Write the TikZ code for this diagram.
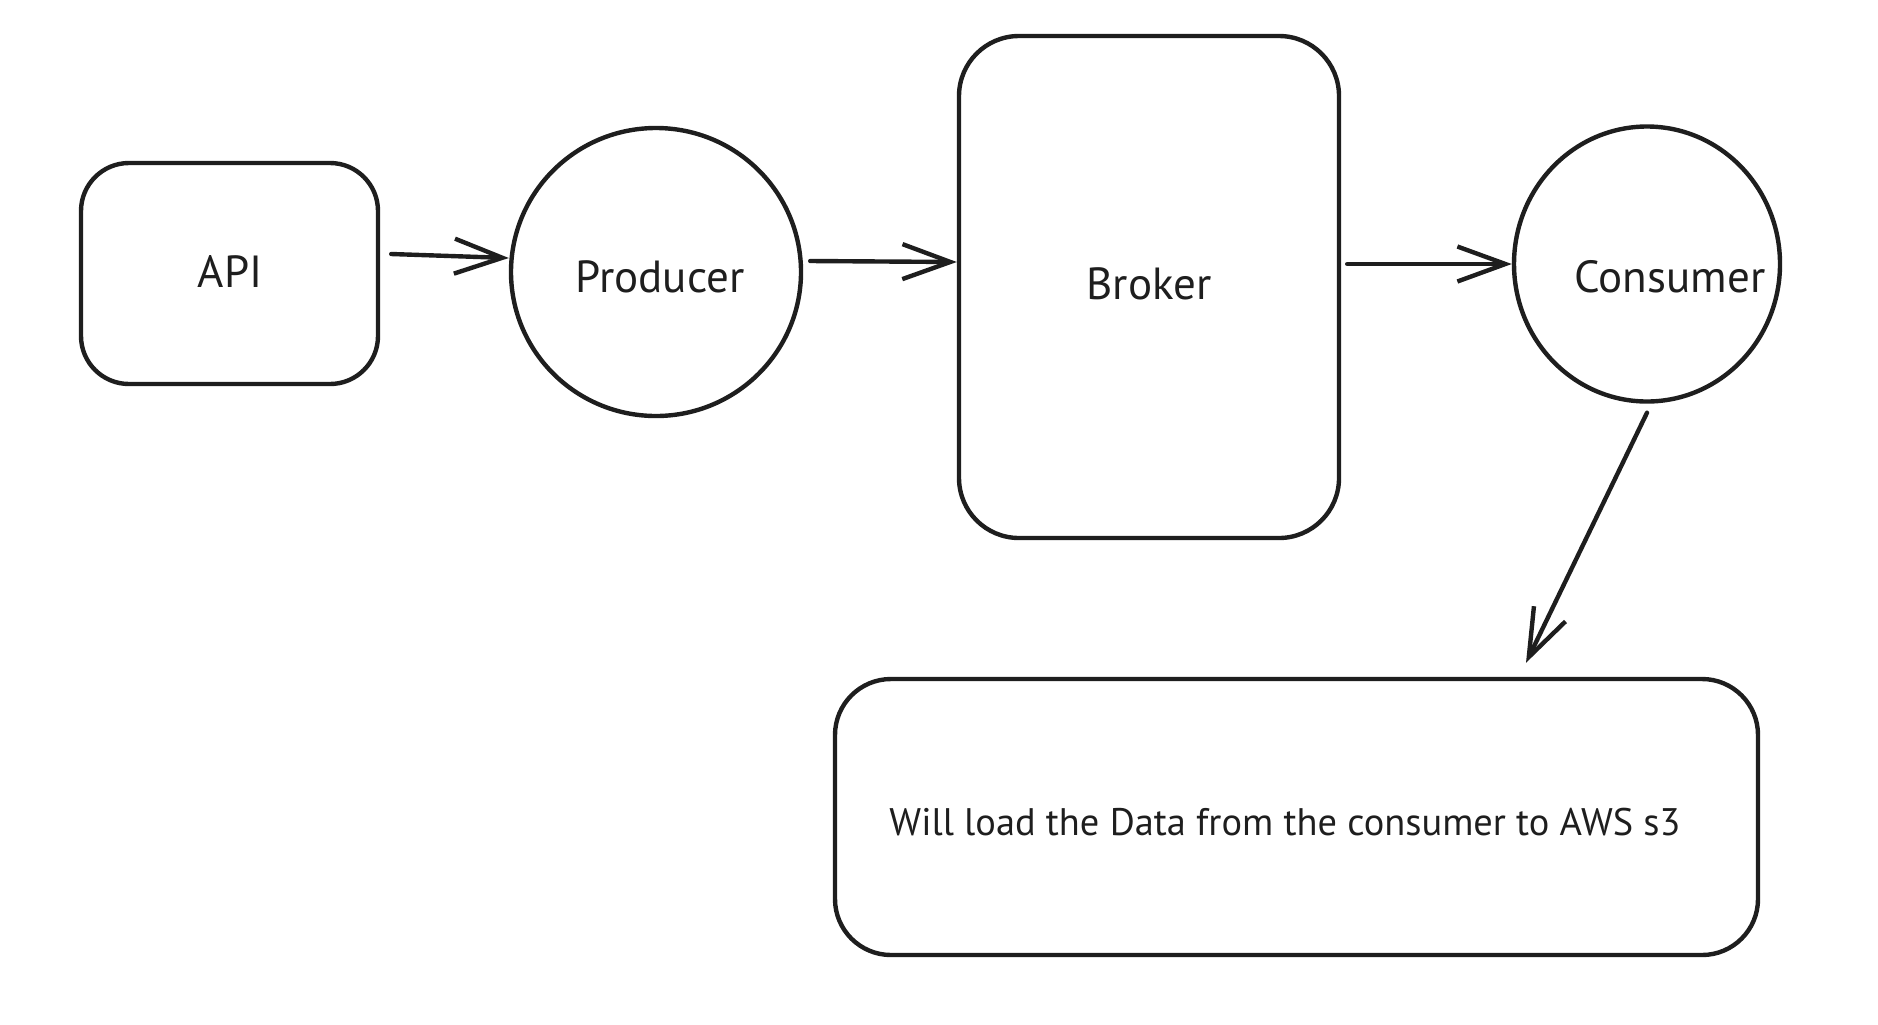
\documentclass[tikz,border=0pt]{standalone}
\usepackage{fontspec}
\setmainfont{PT Sans}
\usetikzlibrary{arrows.meta,shapes.geometric}
\definecolor{ink}{HTML}{1E1E1E}
\tikzset{
  shapeline/.style={draw=ink, line width=2.2pt, fill=none},
  rbox/.style={shapeline, rectangle, rounded corners=#1, inner sep=0pt},
  oval/.style={shapeline, ellipse, inner sep=0pt},
  lbl/.style={text=ink, font=\fontsize{22.5}{27}\selectfont, inner sep=0pt},
  arr/.style={draw=ink, line width=2.2pt, line cap=round, -{Straight Barb[length=24pt, width=17.5pt, line width=2.2pt]}}
}
\begin{document}
\begin{tikzpicture}[x=0.5pt, y=-0.5pt]
\useasboundingbox (0,0) rectangle (1878,1024);
% shapes
\node[rbox=24pt, minimum width=148.5pt, minimum height=110.5pt] (api) at (229.5,273.5) {};
\node[oval, minimum width=145pt, minimum height=144pt] (prod) at (656,272) {};
\node[rbox=30pt, minimum width=190pt, minimum height=251pt] (broker) at (1149,287) {};
\node[oval, minimum width=133pt, minimum height=137.5pt] (cons) at (1647,264) {};
\node[rbox=28pt, minimum width=461.5pt, minimum height=138pt] (store) at (1296.5,817) {};
% labels
\node[lbl] (apiT) at (230,271) {API};
\node[lbl] (prodT) at (660,277) {Producer};
\node[lbl] (brokerT) at (1149,284) {Broker};
\node[lbl] (consT) at (1670,277) {Consumer};
\node[lbl, font=\fontsize{19.2}{23}\selectfont] (storeT) at (1285,822) {Will load the Data from the consumer to AWS s3};
% connectors
\draw[arr] ([shift={(11,-19.5)}]api.east) -- ([shift={(0,-14)}]prod.west);
\draw[arr] ([shift={(7,-11)}]prod.east) -- ([shift={(0,-25)}]broker.west);
\draw[arr] ([shift={(6,-23)}]broker.east) -- (cons.west);
\draw[arr] ([shift={(0,9)}]cons.south) -- ([shift={(229.5,-14)}]store.north);
\end{tikzpicture}
\end{document}
